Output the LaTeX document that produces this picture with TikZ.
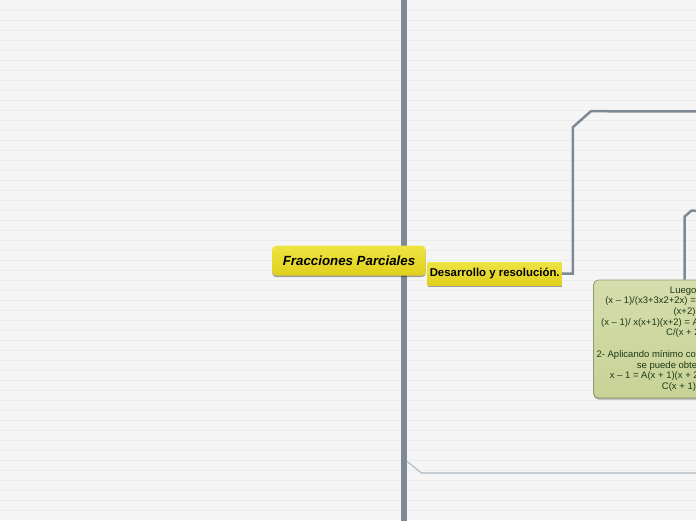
\documentclass[tikz,border=0pt]{standalone}
\usepackage{fontspec}
\setmainfont{Liberation Sans}
\definecolor{paper}{RGB}{245,245,245}
\definecolor{rule}{RGB}{236,236,236}
\definecolor{trunk}{RGB}{125,137,149}
\definecolor{twig}{RGB}{172,184,194}
\definecolor{gold}{RGB}{224,208,28}
\definecolor{goldtop}{RGB}{238,228,66}
\definecolor{sage}{RGB}{200,210,150}
\definecolor{sagetop}{RGB}{214,221,172}
\definecolor{sageedge}{RGB}{138,154,112}
\definecolor{leafink}{RGB}{28,58,22}
\usetikzlibrary{positioning,shadows}

\begin{document}
\begin{tikzpicture}[x=1pt, y=-1pt,
    topic/.style={top color=goldtop, bottom color=gold, inner sep=0pt, text=black,
      drop shadow={shadow xshift=0pt, shadow yshift=-1.5pt, fill=black, opacity=0.35}},
    branch/.style={trunk, line width=2.5pt, line join=miter},
    twigline/.style={twig, line width=1.1pt}]
        \useasboundingbox (0,0) rectangle (696,520);
        \clip (0,0) rectangle (696,520);
        \fill[paper] (0,0) rectangle (696,520);
        \foreach \k in {1,...,51}
          \draw[rule, line width=1pt] (0,10*\k+0.5) -- (696,10*\k+0.5);
        \fill[trunk] (401,-2) rectangle (406.5,522);
        \coordinate (fork) at (406.5,461);
        \coordinate (edge1) at (700,111.5);
        \coordinate (edge2) at (700,211);
        \coordinate (edge3) at (700,473);
        \node[topic, rounded corners=4pt, minimum width=153.4pt, minimum height=30pt,
          font=\fontsize{13.3}{15}\selectfont\bfseries\itshape] (root) at (349,260.7) {Fracciones Parciales};
        \node[topic, minimum width=134pt, minimum height=22.7pt,
          font=\fontsize{11.4}{13}\selectfont\bfseries] (desarrollo) at (494.7,273.7) {Desarrollo y resolución.};
        \node[rounded corners=5pt, top color=sagetop, bottom color=sage, draw=sageedge, line width=0.8pt,
          minimum width=182pt, minimum height=118pt, inner sep=0pt, align=center, text=leafink,
          font=\fontsize{9.5}{10.7}\selectfont,
          drop shadow={shadow xshift=0pt, shadow yshift=-1.5pt, fill=black, opacity=0.3}] (luego) at (684.5,339) {Luego,\\
          (x – 1)/(x3+3x2+2x) = A/x+B/(x+1)+C/\\
          (x+2)\\
          (x – 1)/ x(x+1)(x+2) = A/(x) + B/(x + 1) + \\
          C/(x + 2)\\[10.7pt]
          2- Aplicando mínimo común denominador\\
          se puede obtener que:\\
          x – 1 = A(x + 1)(x + 2) + Bx(x + 2) +\\
          C(x + 1)(x)};
        \draw[branch] (desarrollo.east) -- ++(11,0) -- ++(0,-146.5) -- ++(18,-16) -- (edge1);
        \draw[branch] (luego.north) -- ++(0,-63) -- ++(7,-6) -- (edge2);
        \draw[twigline] (fork) -- ++(15,12) -- (edge3);
      \end{tikzpicture}
\end{document}
